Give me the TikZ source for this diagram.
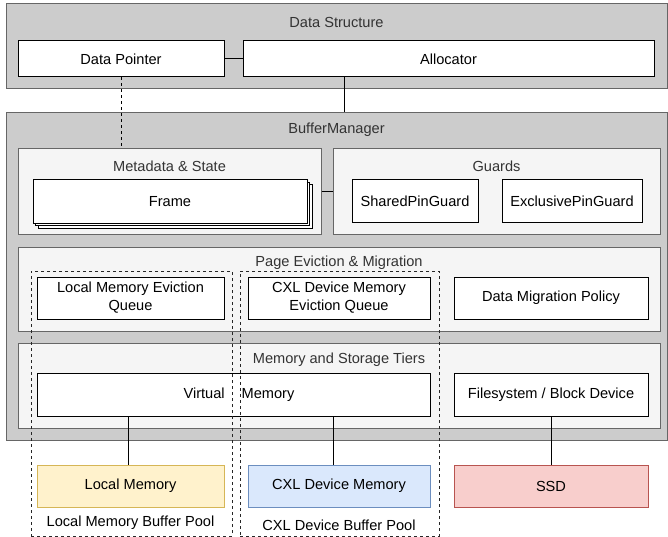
\documentclass[tikz,border=0pt]{standalone}
\usepackage{fontspec}
\setmainfont{Liberation Sans}
\usetikzlibrary{shadows}

\definecolor{outergray}{HTML}{CCCCCC}
\definecolor{groupgray}{HTML}{F5F5F5}
\definecolor{edgegray}{HTML}{666666}
\definecolor{titlegray}{HTML}{333333}
\definecolor{localfill}{HTML}{FFF2CC}
\definecolor{localedge}{HTML}{D6B656}
\definecolor{cxlfill}{HTML}{DAE8FC}
\definecolor{cxledge}{HTML}{6C8EBF}
\definecolor{ssdfill}{HTML}{F8CECC}
\definecolor{ssdedge}{HTML}{B85450}

\tikzset{
  layer/.style={draw=edgegray, fill=outergray, line width=1pt, inner sep=0pt},
  group/.style={draw=edgegray, fill=groupgray, line width=1pt, inner sep=0pt},
  comp/.style={draw=black, fill=white, line width=1pt, inner sep=0pt, align=center},
  title/.style={text=titlegray, inner sep=0pt},
  pool/.style={draw=black!85, dash pattern=on 3pt off 3pt, line width=0.9pt, inner sep=0pt},
  link/.style={draw=black, line width=1pt},
}

\begin{document}
\begin{tikzpicture}[x=1pt, y=-1pt, font=\fontsize{14.6}{18}\selectfont]
\useasboundingbox (0,0) rectangle (668,537);

% Data Structure
\node[layer, minimum width=661pt, minimum height=85pt] (ds) at (336.5,46.5) {};
\node[title] (dstitle) at (336.5,22) {Data Structure};
\node[comp, minimum width=206pt, minimum height=36pt] (ptr) at (121,59) {Data Pointer};
\node[comp, minimum width=411pt, minimum height=36pt] (alloc) at (448.5,59) {Allocator};

% BufferManager
\node[layer, minimum width=661pt, minimum height=327pt] (bm) at (336.5,276.5) {};
\node[title] (bmtitle) at (336.5,130) {BufferManager};

% Metadata & State / Guards
\node[group, minimum width=303pt, minimum height=85pt] (meta) at (169.5,191.5) {};
\node[title] (metatitle) at (169.5,166) {Metadata \& State};
\node[comp, minimum width=274pt, minimum height=43pt,
  double copy shadow={shadow xshift=2.5pt, shadow yshift=-2.5pt}] (frame) at (170,201.5) {Frame};
\node[group, minimum width=327pt, minimum height=85pt] (guards) at (496.5,191.5) {};
\node[title] (guardstitle) at (496.5,166) {Guards};
\node[comp, minimum width=126pt, minimum height=42pt] (spg) at (415,201) {SharedPinGuard};
\node[comp, minimum width=140pt, minimum height=42pt] (epg) at (572,201) {ExclusivePinGuard};

% Page Eviction & Migration
\node[group, minimum width=642pt, minimum height=84pt] (pem) at (339,289) {};
\node[title] (pemtitle) at (339,263) {Page Eviction \& Migration};
\node[comp, minimum width=187pt, minimum height=42pt] (lmq) at (130.5,298) {Local Memory Eviction\\Queue};
\node[comp, minimum width=182pt, minimum height=42pt] (cxq) at (339,298) {CXL Device Memory\\Eviction Queue};
\node[comp, minimum width=194pt, minimum height=42pt] (dmp) at (551,298) {Data Migration Policy};

% Memory and Storage Tiers
\node[group, minimum width=642pt, minimum height=85pt] (mst) at (339,385.5) {};
\node[title] (msttitle) at (339,360) {Memory and Storage Tiers};
\node[comp, minimum width=393pt, minimum height=43pt] (vm) at (233.5,394.5) {\hspace*{11pt}Virtual\hspace{17pt}Memory};
\node[comp, minimum width=194pt, minimum height=43pt] (fs) at (551,394.5) {Filesystem / Block Device};

% Speicher unten
\node[comp, draw=localedge, fill=localfill, minimum width=187pt, minimum height=42pt] (lm) at (130.5,486) {Local Memory};
\node[comp, draw=cxledge, fill=cxlfill, minimum width=182pt, minimum height=42pt] (cxm) at (339,486) {CXL Device Memory};
\node[comp, draw=ssdedge, fill=ssdfill, minimum width=194pt, minimum height=42pt] (ssd) at (551,486) {SSD};

% Verbindungen
\draw[link] (ptr) -- (alloc);
\draw[link] ([xshift=102pt]alloc.south west) -- ([xshift=102pt]alloc.south west |- bm.north);
\draw[link, dash pattern=on 3pt off 3pt] (ptr.south) -- (ptr.south |- meta.north);
\draw[link] (meta.east) -- (guards.west);
\draw[link] ([xshift=-2.5pt]lm.north |- vm.south) -- ([xshift=-2.5pt]lm.north);
\draw[link] ([xshift=-6pt]cxm.north |- vm.south) -- ([xshift=-6pt]cxm.north);
\draw[link] (fs.south) -- (ssd.north);

% Buffer Pools
\node[pool, minimum width=201pt, minimum height=265pt] (lpool) at (131.5,403.5) {};
\node (lpooltext) at (130.5,523) {Local Memory Buffer Pool};
\node[pool, minimum width=199pt, minimum height=265pt] (cpool) at (339.5,403.5) {};
\node (cpooltext) at (339,525) {CXL Device Buffer Pool};

\end{tikzpicture}
\end{document}
